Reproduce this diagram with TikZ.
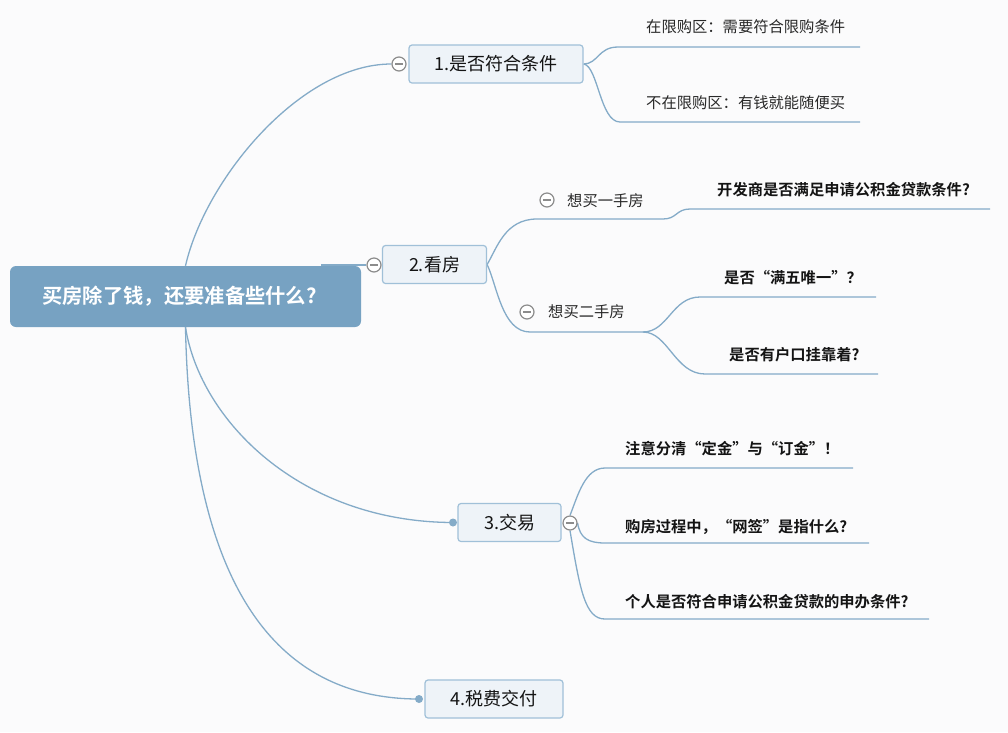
\documentclass[tikz,border=0pt]{standalone}
\usepackage{fontspec}
\setmainfont{Noto Sans CJK SC}[BoldFont={Noto Sans CJK SC Bold}]
\definecolor{bgc}{RGB}{251,251,252}
\definecolor{rootfill}{RGB}{119,162,194}
\definecolor{linec}{RGB}{132,171,200}
\definecolor{boxfill}{RGB}{238,243,248}
\definecolor{boxdraw}{RGB}{160,192,216}
\definecolor{btn}{RGB}{140,140,140}
\definecolor{txt}{RGB}{20,20,20}
\definecolor{ltxt}{RGB}{40,40,40}
\pgfdeclarelayer{background}
\pgfsetlayers{background,main}
\tikzset{
 rootbox/.style={rectangle, rounded corners=6pt, fill=rootfill, text=white, font=\bfseries\fontsize{20.3}{24}\selectfont, minimum width=351pt, minimum height=61pt, inner sep=0},
 topicbox/.style={rectangle, rounded corners=3pt, fill=boxfill, draw=boxdraw, line width=1.2pt, text=txt, font=\fontsize{18}{22}\selectfont, minimum height=38pt, inner sep=0},
 conn/.style={draw=linec, line width=1.3pt},
 btnc/.style={circle, draw=btn, fill=white, line width=1.2pt, minimum size=14pt, inner sep=0, path picture={\draw[btn, line width=1.2pt] ([xshift=-4pt]path picture bounding box.center) -- ([xshift=4pt]path picture bounding box.center);}},
 dotc/.style={circle, fill=linec, minimum size=8pt, inner sep=0},
 leaf/.style={anchor=west, inner sep=0, text=ltxt, font=\fontsize{15.3}{18}\selectfont},
 bleaf/.style={anchor=west, inner sep=0, text=txt, font=\bfseries\fontsize{15.3}{18}\selectfont},
}
\begin{document}
\begin{tikzpicture}[x=1pt,y=-1pt]
\useasboundingbox (0,0) rectangle (1008,732);
% main nodes
\node[rootbox] (root) at (185.5,296.5) {\hspace*{-12pt}买房除了钱，还要准备些什么?};
\node[topicbox, minimum width=174pt] (t1) at (496,64) {1.是否符合条件};
\node[btnc] (c1) at (399,64) {};
\node[topicbox, minimum width=104pt] (t2) at (434.5,264.5) {2.看房};
\node[btnc] (c2) at (374,265) {};
\node[topicbox, minimum width=103pt] (t3) at (509.5,522.5) {3.交易};
\node[dotc] (d3) at (453,522.5) {};
\node[btnc] (c3) at (570,523) {};
\node[topicbox, minimum width=138pt] (t4) at (494,699) {4.税费交付};
\node[dotc] (d4) at (419,699) {};
% subtopics of 2
\node[btnc] (s1c) at (547,200) {};
\node[leaf] (s1) at (567,200.5) {想买一手房};
\node[btnc] (s2c) at (527,312) {};
\node[leaf] (s2) at (548,312) {想买二手房};
% leaves
\node[leaf] (n1a) at (646,27) {在限购区：需要符合限购条件};
\node[leaf] (n1b) at (646,103) {不在限购区：有钱就能随便买};
\node[bleaf] (n2a) at (717,190) {开发商是否满足申请公积金贷款条件?};
\node[bleaf] (n2b) at (724,278) {是否“满五唯一”？};
\node[bleaf] (n2c) at (729,355) {是否有户口挂靠着?};
\node[bleaf] (n3a) at (625,449) {注意分清“定金”与“订金”！};
\node[bleaf] (n3b) at (625,527) {购房过程中，“网签”是指什么?};
\node[bleaf] (n3c) at (625,602) {个人是否符合申请公积金贷款的申办条件?};
% line coordinates
\coordinate (l1a) at (618,47);  \coordinate (l1ae) at (860,47);
\coordinate (l1b) at (620,122); \coordinate (l1be) at (860,122);
\coordinate (s1a) at (537,219); \coordinate (s1b) at (663,219);
\coordinate (s1l) at (690,209); \coordinate (s1le) at (990,209);
\coordinate (s2a) at (530,332); \coordinate (s2b) at (643,332);
\coordinate (s2l1) at (700,297); \coordinate (s2l1e) at (876,297);
\coordinate (s2l2) at (705,374); \coordinate (s2l2e) at (878,374);
\coordinate (l3a) at (605,468); \coordinate (l3ae) at (853,468);
\coordinate (l3b) at (605,543); \coordinate (l3be) at (869,543);
\coordinate (l3c) at (605,619); \coordinate (l3ce) at (929,619);
\begin{pgfonlayer}{background}
\fill[bgc] (0,0) rectangle (1008,732);
% root connectors
\draw[conn] (root.north) .. controls (205,180) and (300,64) .. (c1.west);
\draw[conn] (c2.west) -- ([xshift=-40pt]root.north east |- c2.west);
\draw[conn] (root.south) .. controls (200,420) and (300,522) .. (d3.center);
\draw[conn] (root.south) .. controls (190,560) and (260,699) .. (d4.center);
% topic 1
\draw[conn] (t1.east) .. controls (598,64) and (598,47) .. (l1a) -- (l1ae);
\draw[conn] (t1.east) .. controls (598,66) and (600,122) .. (l1b) -- (l1be);
% topic 2
\draw[conn] (t2.east) .. controls (497,248) and (505,219) .. (s1a) -- (s1b) .. controls (677,219) and (676,209) .. (s1l) -- (s1le);
\draw[conn] (t2.east) .. controls (497,285) and (502,332) .. (s2a) -- (s2b);
\draw[conn] (s2b) .. controls (668,332) and (672,297) .. (s2l1) -- (s2l1e);
\draw[conn] (s2b) .. controls (668,332) and (675,374) .. (s2l2) -- (s2l2e);
% topic 3
\draw[conn] (c3.north) .. controls (578,495) and (585,468) .. (l3a) -- (l3ae);
\draw[conn] (c3.east) .. controls (580,538) and (588,543) .. (l3b) -- (l3be);
\draw[conn] (c3.south) .. controls (580,590) and (585,619) .. (l3c) -- (l3ce);
\end{pgfonlayer}
\end{tikzpicture}
\end{document}
